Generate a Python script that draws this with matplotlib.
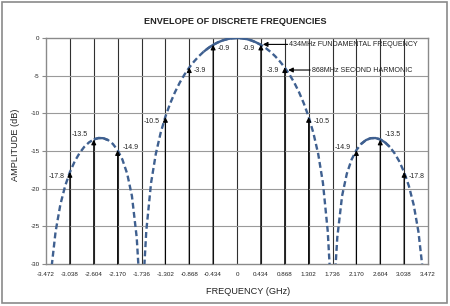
import matplotlib
matplotlib.use("Agg")
import matplotlib.pyplot as plt
from matplotlib.patches import Rectangle
import numpy as np

plt.rcParams['font.family'] = ['Liberation Sans', 'DejaVu Sans']

# ---- data ----
x_ticks = [-3.472, -3.038, -2.604, -2.170, -1.736, -1.302, -0.868, -0.434, 0,
           0.434, 0.868, 1.302, 1.736, 2.170, 2.604, 3.038, 3.472]
x_tick_labels = ["-3.472", "-3.038", "-2.604", "-2.170", "-1.736", "-1.302", "-0.868",
                 "-0.434", "0", "0.434", "0.868", "1.302", "1.736", "2.170", "2.604",
                 "3.038", "3.472"]
y_ticks = [0, -5, -10, -15, -20, -25, -30]

# envelope, main lobe (right half, symmetric)
main_freq = [0.000, 0.087, 0.174, 0.260, 0.347, 0.434, 0.521, 0.608, 0.694, 0.781,
             0.868, 0.955, 1.042, 1.128, 1.215, 1.302, 1.389, 1.476, 1.562, 1.649, 1.684]
main_db = [0.0, -0.04, -0.14, -0.32, -0.58, -0.91, -1.33, -1.83, -2.42, -3.12,
           -3.92, -4.86, -5.94, -7.20, -8.69, -10.45, -12.62, -15.39, -19.23, -25.61, -30.2]
# envelope, first side lobe (positive side, symmetric)
side_freq = [1.788, 1.823, 1.910, 1.996, 2.083, 2.170, 2.257, 2.344, 2.430, 2.517,
             2.604, 2.691, 2.778, 2.864, 2.951, 3.038, 3.125, 3.212, 3.298, 3.368]
side_db = [-30.7, -26.48, -20.97, -18.02, -16.14, -14.89, -14.06, -13.55, -13.30, -13.28,
           -13.46, -13.86, -14.46, -15.30, -16.39, -17.81, -19.66, -22.15, -25.72, -30.24]

# discrete frequencies (arrows)
disc_freq = [-3.038, -2.604, -2.170, -1.302, -0.868, -0.434,
             0.434, 0.868, 1.302, 2.170, 2.604, 3.038]
disc_db = [-17.8, -13.5, -14.9, -10.5, -3.9, -0.9,
           -0.9, -3.9, -10.5, -14.9, -13.5, -17.8]
disc_labels = ["-17.8", "-13.5", "-14.9", "-10.5", "-3.9", "-0.9",
               "-0.9", "-3.9", "-10.5", "-14.9", "-13.5", "-17.8"]

title = "ENVELOPE OF DISCRETE FREQUENCIES"
note1 = "434MHz FUNDAMENTAL FREQUENCY"
note2 = "868MHz SECOND HARMONIC"

# ---- style ----
curve_color = "#3f6090"
label_side = ['l', 'l', 'r', 'l', 'r', 'r', 'l', 'l', 'r', 'l', 'r', 'r']
label_dy = [-3.0, 4.0, 2.0, -3.5, -2.0, -3.0, -3.0, -2.0, -3.5, 2.0, 4.0, -3.0]

fig = plt.figure(figsize=(4.5, 3.06), dpi=100)
fig.patch.set_facecolor("white")
fig.patches.append(Rectangle((2 / 450, 3 / 306), 445 / 450, 301 / 306, transform=fig.transFigure,
                             fill=False, edgecolor="#8a8a8a", linewidth=1.2))

ax = fig.add_axes([46 / 450, 42 / 306, 382 / 450, 226 / 306])
ax.set_xlim(-3.472, 3.472)
ax.set_ylim(-30, 0)

# grid
for xv in x_ticks[1:-1]:
    ax.axvline(xv, color="#303030", lw=0.8, zorder=1)
for yv in y_ticks[1:-1]:
    ax.axhline(yv, color="#9a9a9a", lw=0.8, zorder=1)
for s in ax.spines.values():
    s.set_color("#8a8a8a")
    s.set_linewidth(1.0)

ax.set_xticks(x_ticks)
ax.set_xticklabels(x_tick_labels, fontsize=4.5, color="#222222")
ax.set_yticks(y_ticks)
ax.set_yticklabels([str(v) for v in y_ticks], fontsize=4.5, color="#222222")
ax.tick_params(axis='x', length=0, pad=6)
ax.tick_params(axis='y', length=3, width=0.8, color="#8a8a8a", pad=1.5)

# envelope curves
mf = np.array(main_freq)
md = np.array(main_db)
full_main_f = np.concatenate([-mf[::-1], mf[1:]])
full_main_d = np.concatenate([md[::-1], md[1:]])
sf = np.array(side_freq)
sd = np.array(side_db)
segments = [(full_main_f, full_main_d), (-sf[::-1], sd[::-1]), (sf, sd)]
for f, d in segments:
    ax.plot(f, d, color=curve_color, lw=1.7, dashes=(2.5, 1.4), zorder=3,
            solid_capstyle='butt', dash_capstyle='butt')
solid_ranges = [(-0.62, 0.45), (-2.64, -2.28), (2.22, 2.78)]
for (lo, hi) in solid_ranges:
    for f, d in segments:
        m = (f >= lo) & (f <= hi)
        if m.sum() > 1:
            ax.plot(f[m], d[m], color=curve_color, lw=1.7, zorder=3, solid_capstyle='butt')

# arrows
for xv, yv, lab, side, dy in zip(disc_freq, disc_db, disc_labels, label_side, label_dy):
    ax.annotate("", xy=(xv, yv), xytext=(xv, -30),
                arrowprops=dict(arrowstyle='-|>', color='black', lw=0.8,
                                mutation_scale=7, shrinkA=0, shrinkB=0), zorder=4)
    if side == 'l':
        ax.annotate(lab, xy=(xv, yv), xytext=(-4, dy), textcoords='offset points',
                    ha='right', va='center', fontsize=5, color="#222222", zorder=5)
    else:
        ax.annotate(lab, xy=(xv, yv), xytext=(3.5, dy), textcoords='offset points',
                    ha='left', va='center', fontsize=5, color="#222222", zorder=5)

# notes
ax.annotate("", xy=(0.47, -0.85), xytext=(0.92, -0.85),
            arrowprops=dict(arrowstyle='-|>', color='black', lw=0.8,
                            mutation_scale=7, shrinkA=0, shrinkB=0), zorder=5)
ax.text(0.95, -0.85, note1, fontsize=5.1, ha='left', va='center', color="#222222", zorder=5)
ax.annotate("", xy=(0.93, -4.25), xytext=(1.33, -4.25),
            arrowprops=dict(arrowstyle='-|>', color='black', lw=0.8,
                            mutation_scale=7, shrinkA=0, shrinkB=0), zorder=5)
ax.text(1.37, -4.25, note2, fontsize=5.1, ha='left', va='center', color="#222222", zorder=5)

fig.text(235.5 / 450, 1 - 22 / 306, title, fontsize=6.6, fontweight='bold',
         ha='center', va='center', color="#222222")
fig.text(15 / 450, 1 - 145 / 306, "AMPLITUDE (dB)", rotation=90, fontsize=6.6,
         ha='center', va='center', color="#222222")
fig.text(248 / 450, 1 - 291 / 306, "FREQUENCY (GHz)", fontsize=6.6,
         ha='center', va='center', color="#222222")

fig.savefig("out.png", dpi=100)
